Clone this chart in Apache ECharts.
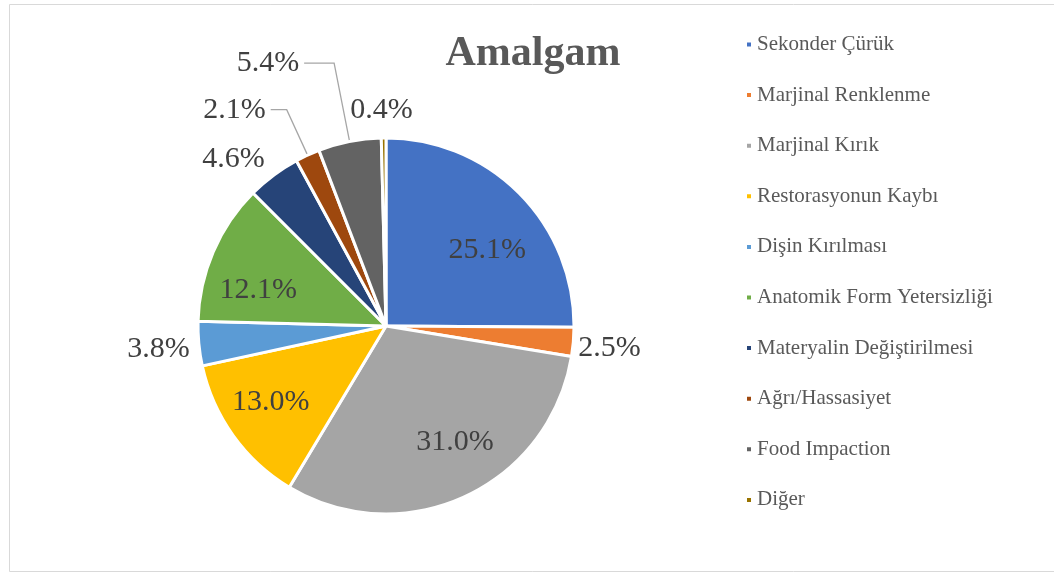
<!DOCTYPE html>
<html>
<head>
<meta charset="utf-8">
<script src="https://cdn.jsdelivr.net/npm/echarts@6/dist/echarts.min.js"></script>
<style>
  html, body { margin: 0; padding: 0; background: #fff; }
  #main { width: 1054px; height: 574px; }
</style>
</head>
<body>
<div id="main"></div>
<script>
// kategoriler ve yuzdeler
var categories = ['Sekonder Çürük', 'Marjinal Renklenme', 'Marjinal Kırık', 'Restorasyonun Kaybı',
  'Dişin Kırılması', 'Anatomik Form Yetersizliği', 'Materyalin Değiştirilmesi', 'Ağrı/Hassasiyet',
  'Food Impaction', 'Diğer']
var percents = [25.1, 2.5, 31.0, 13.0, 3.8, 12.1, 4.6, 2.1, 5.4, 0.4]
var colors = ['#4472C4', '#ED7D31', '#A5A5A5', '#FFC000', '#5B9BD5', '#70AD47', '#264478', '#9E480E', '#636363', '#997300']

const CX = 386
const CY = 326
const SERIF = '"Liberation Serif", "DejaVu Serif", serif'

// hangi dilimlerin etiketi iceride
var insideIdx = [0, 2, 3, 5]
// etiket ince ayar (dx, dy)
var labelShift = {
  0: [5, 20],
  1: [0, 6],
  2: [12, -7],
  3: [-5, -3],
  4: [-4, 5],
  5: [-3, 18],
  6: [8, 0],
  9: [34, -28]
}

var pieData = []
for (var i = 0; i < categories.length; i++) {
  var item = {
    name: categories[i],
    value: percents[i],
    itemStyle: { color: colors[i] }
  }
  if (insideIdx.indexOf(i) >= 0) {
    item.label = { position: 'inside' }
    item.labelLine = { show: false }
  } else {
    item.label = { position: 'outside' }
    item.labelLine = { show: false, length: 0, length2: 0 }
  }
  pieData.push(item)
}
// 4.6%
pieData[6].labelLine = { show: false, length: 20, length2: 0 }
// 2.1% ve 5.4% cizgili
pieData[7].labelLine = { show: true, length: 50, length2: 16 }
pieData[8].labelLine = { show: true, length: 80, length2: 30 }

var chart = echarts.init(document.getElementById('main'))

var option = {
  backgroundColor: '#fff',
  color: colors,
  title: {
    text: 'Amalgam',
    left: 528,
    top: 28,
    textAlign: 'center',
    textStyle: {
      fontFamily: SERIF,
      fontSize: 42,
      fontWeight: 'bold',
      color: '#595959'
    }
  },
  graphic: [{
    type: 'rect',
    shape: { x: 9.5, y: 4.5, width: 1060, height: 567 },
    style: { fill: 'none', stroke: '#d9d9d9', lineWidth: 1 },
    silent: true
  }],
  legend: {
    orient: 'vertical',
    left: 740,
    top: 29,
    icon: 'rect',
    itemWidth: 6,
    itemHeight: 6,
    itemGap: 29.6,
    data: categories,
    textStyle: {
      fontFamily: SERIF,
      fontSize: 21,
      lineHeight: 21,
      color: '#595959'
    }
  },
  series: [{
    type: 'pie',
    center: [CX, CY],
    radius: 188,
    startAngle: 90,
    clockwise: true,
    avoidLabelOverlap: false,
    itemStyle: {
      borderColor: '#fff',
      borderWidth: 3
    },
    label: {
      fontFamily: SERIF,
      fontSize: 30,
      color: '#404040',
      formatter: function (p) {
        return p.value.toFixed(1) + '%'
      }
    },
    labelLine: {
      lineStyle: { color: '#A6A6A6', width: 1.3 },
      smooth: false
    },
    labelLayout: function (params) {
      var idx = params.dataIndex
      var r = params.labelRect
      var s = labelShift[idx] || [0, 0]
      if (insideIdx.indexOf(idx) >= 0) {
        // Excel etiketleri merkezden daha uzak koyuyor
        var lx = r.x + r.width / 2
        var ly = r.y + r.height / 2
        return { dx: (lx - CX) * 0.4 + s[0], dy: (ly - CY) * 0.4 + s[1] }
      }
      if (s[0] || s[1]) {
        return { dx: s[0], dy: s[1] }
      }
      return {}
    },
    emphasis: { disabled: true },
    data: pieData
  }]
}
chart.setOption(option)
</script>
</body>
</html>
